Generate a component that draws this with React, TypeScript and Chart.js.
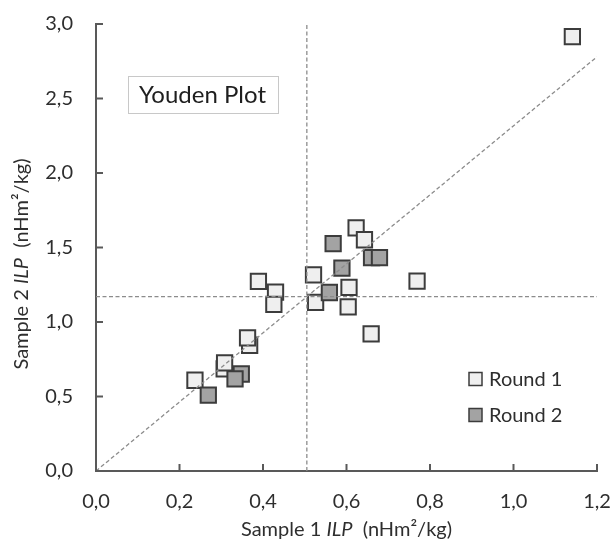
import React, { useEffect, useRef } from "react";
import { Chart, registerables } from "chart.js";

Chart.register(...registerables);

// ---- data ----
const round1X = [0.237, 0.307, 0.308, 0.368, 0.363, 0.389, 0.430, 0.426, 0.521, 0.526, 0.604, 0.606, 0.623, 0.643, 0.659, 0.769, 1.141];
const round1Y = [0.609, 0.685, 0.725, 0.844, 0.894, 1.273, 1.200, 1.119, 1.317, 1.131, 1.101, 1.233, 1.632, 1.552, 0.920, 1.275, 2.915];
const round2X = [0.269, 0.348, 0.333, 0.559, 0.568, 0.589, 0.660, 0.679];
const round2Y = [0.509, 0.651, 0.619, 1.198, 1.526, 1.361, 1.432, 1.432];
const seriesLabels = ["Round 1", "Round 2"];
const xTicks = [0, 0.2, 0.4, 0.6, 0.8, 1.0, 1.2];
const yTicks = [0, 0.5, 1.0, 1.5, 2.0, 2.5, 3.0];
const medianX = 0.505;
const medianY = 1.17;
const plotTitle = "Youden Plot";
const xTitleParts = [
  { t: "Sample 1 ", i: false },
  { t: "ILP", i: true },
  { t: "  (nHm²/kg)", i: false },
];
const yTitleParts = [
  { t: "Sample 2 ", i: false },
  { t: "ILP", i: true },
  { t: "  (nHm²/kg)", i: false },
];

const FONT = "Lato, 'Noto Sans', sans-serif";
const TEXT = "#2e2e2e";
const AXIS = "#595959";
const FILL1 = "#efefef";
const FILL2 = "#a3a3a3";
const EDGE = "#3c3c3c";
const DASH = "#8c8c8c";

const fmt = (v: number) => Number(v).toFixed(1).replace(".", ",");

function drawParts(ctx: CanvasRenderingContext2D, parts: { t: string; i: boolean }[], size: number) {
  const fonts = parts.map((p) => `${p.i ? "italic " : ""}${size}px ${FONT}`);
  const widths = parts.map((p, k) => {
    ctx.font = fonts[k];
    return ctx.measureText(p.t).width;
  });
  const total = widths.reduce((a, b) => a + b, 0);
  let x = -total / 2;
  ctx.textAlign = "left";
  ctx.textBaseline = "middle";
  ctx.fillStyle = TEXT;
  parts.forEach((p, k) => {
    ctx.font = fonts[k];
    ctx.fillText(p.t, x, 0);
    x += widths[k];
  });
}

const decorPlugin = {
  id: "decor",
  afterDraw(chart: any) {
    const { ctx, chartArea, scales } = chart;
    const xs = scales.x;
    const ys = scales.y;
    ctx.save();
    // inward tick marks
    ctx.strokeStyle = AXIS;
    ctx.lineWidth = 2;
    xTicks.forEach((v) => {
      const px = xs.getPixelForValue(v);
      ctx.beginPath();
      ctx.moveTo(px, chartArea.bottom);
      ctx.lineTo(px, chartArea.bottom - 7);
      ctx.stroke();
    });
    yTicks.forEach((v) => {
      const py = ys.getPixelForValue(v);
      ctx.beginPath();
      ctx.moveTo(chartArea.left, py);
      ctx.lineTo(chartArea.left + 7, py);
      ctx.stroke();
    });

    // title box
    const bx = chartArea.left + 32;
    const by = chartArea.top + 52;
    ctx.strokeStyle = "#c8c8c8";
    ctx.lineWidth = 1;
    ctx.strokeRect(bx + 0.5, by + 0.5, 150, 37);
    ctx.fillStyle = "#1e1e1e";
    ctx.font = `24px ${FONT}`;
    ctx.textAlign = "left";
    ctx.textBaseline = "middle";
    ctx.fillText(plotTitle, bx + 11, by + 19);

    // legend
    const lx = chartArea.right - 128;
    const ly = chartArea.bottom - 92;
    const fills = [FILL1, FILL2];
    seriesLabels.forEach((lab, k) => {
      const cy = ly + k * 36;
      ctx.fillStyle = fills[k];
      ctx.fillRect(lx, cy - 6.5, 13, 13);
      ctx.strokeStyle = EDGE;
      ctx.lineWidth = 1.5;
      ctx.strokeRect(lx, cy - 6.5, 13, 13);
      ctx.fillStyle = TEXT;
      ctx.font = `20px ${FONT}`;
      ctx.textAlign = "left";
      ctx.textBaseline = "middle";
      ctx.fillText(lab, lx + 20, cy + 1);
    });

    // axis titles
    ctx.save();
    ctx.translate((chartArea.left + chartArea.right) / 2, 530);
    drawParts(ctx, xTitleParts, 20);
    ctx.restore();
    ctx.save();
    ctx.translate(22, 264);
    ctx.rotate(-Math.PI / 2);
    drawParts(ctx, yTitleParts, 20);
    ctx.restore();

    ctx.restore();
  },
};

export default function App() {
  const ref = useRef<HTMLCanvasElement | null>(null);

  useEffect(() => {
    if (!ref.current) return;
    const xMax = xTicks[xTicks.length - 1];
    const yMax = yTicks[yTicks.length - 1];
    const dashed = {
      type: "line" as const,
      showLine: true,
      borderColor: DASH,
      borderWidth: 1.3,
      borderDash: [4, 2.5],
      pointRadius: 0,
      fill: false,
      order: -1,
    };
    const chart = new Chart(ref.current, {
      type: "scatter",
      data: {
        datasets: [
          {
            label: seriesLabels[0],
            data: round1X.map((x, i) => ({ x, y: round1Y[i] })),
            pointStyle: "rect",
            pointRadius: 10.8,
            pointBackgroundColor: FILL1,
            pointBorderColor: EDGE,
            pointBorderWidth: 2,
            order: 2,
          },
          {
            label: seriesLabels[1],
            data: round2X.map((x, i) => ({ x, y: round2Y[i] })),
            pointStyle: "rect",
            pointRadius: 10.8,
            pointBackgroundColor: FILL2,
            pointBorderColor: EDGE,
            pointBorderWidth: 2,
            order: 1,
          },
          { ...dashed, label: "vx", data: [{ x: medianX, y: 0 }, { x: medianX, y: yMax }] },
          { ...dashed, label: "hy", data: [{ x: 0, y: medianY }, { x: xMax, y: medianY }] },
          { ...dashed, label: "diag", data: [{ x: 0, y: 0 }, { x: xMax, y: (xMax * medianY) / medianX }] },
        ] as any,
      },
      options: {
        animation: false,
        responsive: false,
        devicePixelRatio: 1,
        layout: { padding: { top: 24, right: 16, left: 0, bottom: 0 } },
        plugins: { legend: { display: false }, tooltip: { enabled: false } },
        scales: {
          x: {
            type: "linear",
            min: 0,
            max: xMax,
            grid: { display: false, drawTicks: false },
            border: { display: true, color: AXIS, width: 2 },
            ticks: {
              padding: 19,
              color: TEXT,
              font: { family: FONT, size: 20 },
              maxRotation: 0,
              autoSkip: false,
              callback: (v: any) => fmt(v),
            },
            afterBuildTicks: (s: any) => {
              s.ticks = xTicks.map((v) => ({ value: v }));
            },
            afterFit: (s: any) => {
              s.height = 72;
              s.paddingLeft = 0;
              s.paddingRight = 0;
              s.paddingTop = 0;
              s.paddingBottom = 0;
            },
          },
          y: {
            type: "linear",
            min: 0,
            max: yMax,
            grid: { display: false, drawTicks: false },
            border: { display: true, color: AXIS, width: 2 },
            ticks: {
              padding: 23,
              color: TEXT,
              font: { family: FONT, size: 20 },
              autoSkip: false,
              callback: (v: any) => fmt(v),
            },
            afterBuildTicks: (s: any) => {
              s.ticks = yTicks.map((v) => ({ value: v }));
            },
            afterFit: (s: any) => {
              s.width = 96;
              s.paddingLeft = 0;
              s.paddingRight = 0;
              s.paddingTop = 0;
              s.paddingBottom = 0;
            },
          },
        },
      },
      plugins: [decorPlugin],
    });
    return () => chart.destroy();
  }, []);

  return (
    <div style={{ position: "fixed", left: 0, top: 0, width: 613, height: 543, background: "#fff" }}>
      <canvas ref={ref} width={613} height={543} style={{ width: 613, height: 543, display: "block" }} />
    </div>
  );
}
